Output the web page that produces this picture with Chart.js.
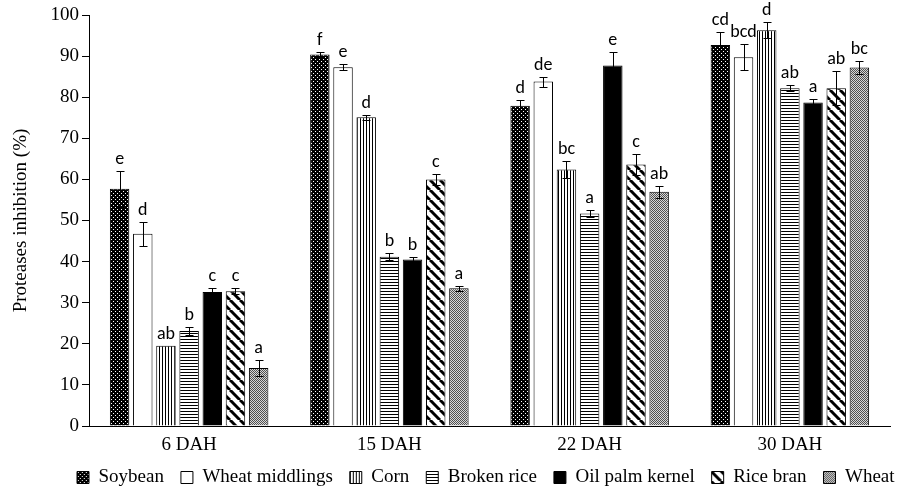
<!DOCTYPE html>
<html>
<head>
<meta charset="utf-8">
<script src="https://cdn.jsdelivr.net/npm/chart.js@4.4.1/dist/chart.umd.min.js"></script>
<style>
html,body{margin:0;padding:0;background:#fff;}
#wrap{width:897px;height:498px;}
</style>
</head>
<body>
<div id="wrap"><canvas id="c" width="897" height="498"></canvas></div>
<script>
const categories = ["6 DAH", "15 DAH", "22 DAH", "30 DAH"];
const seriesNames = ["Soybean", "Wheat middlings", "Corn", "Broken rice", "Oil palm kernel", "Rice bran", "Wheat"];

const soybean        = [57.7, 90.4, 77.9, 92.7];
const wheatMiddlings = [46.8, 87.3, 83.8, 89.7];
const corn           = [19.5, 75.1, 62.4, 96.3];
const brokenRice     = [23.1, 41.2, 51.7, 82.2];
const oilPalmKernel  = [32.6, 40.5, 87.7, 78.7];
const riceBran       = [32.8, 60.0, 63.6, 82.2];
const wheat          = [14.1, 33.5, 57.0, 87.2];

const soybeanErr        = [4.3, 0.6, 1.4, 3.1];
const wheatMiddlingsErr = [2.9, 0.8, 1.2, 3.2];
const cornErr           = [0.0, 0.6, 2.1, 1.9];
const brokenRiceErr     = [0.9, 0.8, 0.8, 0.8];
const oilPalmKernelErr  = [1.0, 0.6, 3.2, 0.8];
const riceBranErr       = [0.8, 1.3, 2.5, 4.2];
const wheatErr          = [1.9, 0.6, 1.5, 1.5];

const soybeanLetters        = ["e", "f", "d", "cd"];
const wheatMiddlingsLetters = ["d", "e", "de", "bcd"];
const cornLetters           = ["ab", "d", "bc", "d"];
const brokenRiceLetters     = ["b", "b", "a", "ab"];
const oilPalmKernelLetters  = ["c", "b", "e", "a"];
const riceBranLetters       = ["c", "c", "c", "ab"];
const wheatLetters          = ["a", "a", "ab", "bc"];

const yTicks = [0, 10, 20, 30, 40, 50, 60, 70, 80, 90, 100];

const values = [soybean, wheatMiddlings, corn, brokenRice, oilPalmKernel, riceBran, wheat];
const errors = [soybeanErr, wheatMiddlingsErr, cornErr, brokenRiceErr, oilPalmKernelErr, riceBranErr, wheatErr];
const letters = [soybeanLetters, wheatMiddlingsLetters, cornLetters, brokenRiceLetters, oilPalmKernelLetters, riceBranLetters, wheatLetters];

const SERIF = "'Liberation Serif', 'Times New Roman', Times, serif";
const LETTER_FONT = "18px Carlito, Lato, sans-serif";

function makePattern(w, h, draw) {
  const c = document.createElement('canvas');
  c.width = w; c.height = h;
  const g = c.getContext('2d');
  draw(g, w, h);
  return document.getElementById('c').getContext('2d').createPattern(c, 'repeat');
}

function build() {
  const patSoy = makePattern(4, 4, (g) => {
    g.fillStyle = '#000'; g.fillRect(0, 0, 4, 4);
    g.fillStyle = '#fff'; g.fillRect(1, 1, 1, 1); g.fillRect(3, 3, 1, 1);
  });
  const patCorn = makePattern(3, 3, (g) => {
    g.fillStyle = '#fff'; g.fillRect(0, 0, 3, 3);
    g.fillStyle = '#000'; g.fillRect(0, 0, 1, 3);
  });
  const patRice = makePattern(3, 3, (g) => {
    g.fillStyle = '#fff'; g.fillRect(0, 0, 3, 3);
    g.fillStyle = '#000'; g.fillRect(0, 0, 3, 1);
  });
  const patBran = makePattern(10, 10, (g) => {
    g.fillStyle = '#fff'; g.fillRect(0, 0, 10, 10);
    g.strokeStyle = '#000'; g.lineWidth = 3;
    for (const o of [-10, 0, 10]) {
      g.beginPath(); g.moveTo(o, 0); g.lineTo(o + 10, 10); g.stroke();
    }
  });
  const patWheat = makePattern(2, 2, (g) => {
    g.fillStyle = '#d8d8d8'; g.fillRect(0, 0, 2, 2);
    g.fillStyle = '#505050'; g.fillRect(0, 0, 1, 1); g.fillRect(1, 1, 1, 1);
  });
  const fills = [patSoy, '#ffffff', patCorn, patRice, '#000000', patBran, patWheat];

  const datasets = seriesNames.map((name, i) => ({
    label: name,
    data: values[i],
    backgroundColor: fills[i],
    borderColor: '#000',
    borderWidth: 1,
    borderSkipped: 'bottom',
    categoryPercentage: 0.81,
    barPercentage: 0.84
  }));

  const errPlugin = {
    id: 'errbars',
    afterDatasetsDraw(chart) {
      const ctx = chart.ctx;
      const y = chart.scales.y;
      ctx.save();
      ctx.strokeStyle = '#000';
      ctx.lineWidth = 1;
      ctx.fillStyle = '#000';
      ctx.font = LETTER_FONT;
      ctx.textAlign = 'center';
      ctx.textBaseline = 'alphabetic';
      chart.data.datasets.forEach((ds, i) => {
        const meta = chart.getDatasetMeta(i);
        meta.data.forEach((bar, j) => {
          const v = values[i][j], e = errors[i][j];
          const x = Math.round(bar.x) + 0.5;
          const yt = Math.round(y.getPixelForValue(v + e)) + 0.5;
          const yb = Math.round(y.getPixelForValue(v - e)) + 0.5;
          if (e > 0) {
            ctx.beginPath();
            ctx.moveTo(x, yt); ctx.lineTo(x, yb);
            ctx.moveTo(x - 4, yt); ctx.lineTo(x + 4, yt);
            ctx.moveTo(x - 4, yb); ctx.lineTo(x + 4, yb);
            ctx.stroke();
          }
          ctx.fillText(letters[i][j], bar.x, yt - 8);
        });
      });
      ctx.restore();
    }
  };

  // compact legend box and place it like the reference (off-centre)
  const legendShift = {
    id: 'legendShift',
    beforeLayout(chart) {
      const lg = chart.legend;
      if (!lg || lg._fitWrapped) return;
      const origFit = lg.fit.bind(lg);
      lg.fit = function () { origFit(); lg.height = 35; };
      lg._fitWrapped = true;
    },
    afterLayout(chart) {
      const lg = chart.legend;
      if (!lg || lg._shiftWrapped) return;
      const orig = lg.draw.bind(lg);
      lg.draw = function () {
        const hb = lg.legendHitBoxes && lg.legendHitBoxes[0];
        const dx = hb ? 77 - hb.left : 0;
        const dy = hb ? 468 - hb.top : 0;
        chart.ctx.save();
        chart.ctx.translate(dx, dy);
        orig();
        chart.ctx.restore();
      };
      lg._shiftWrapped = true;
    }
  };

  new Chart(document.getElementById('c'), {
    type: 'bar',
    data: { labels: categories, datasets },
    plugins: [errPlugin, legendShift],
    options: {
      responsive: false,
      devicePixelRatio: 1,
      animation: false,
      layout: { padding: { top: 15, right: 7, left: 0, bottom: 3 } },
      plugins: {
        tooltip: { enabled: false },
        legend: {
          position: 'bottom',
          labels: {
            boxWidth: 12, boxHeight: 12,
            padding: 17,
            color: '#000',
            font: { family: SERIF, size: 19 }
          }
        }
      },
      scales: {
        x: {
          grid: { display: false },
          border: { display: true, color: '#000', width: 1 },
          ticks: { color: '#000', padding: 0, font: { family: SERIF, size: 19 } },
          afterFit(scale) { scale.height = 34; }
        },
        y: {
          min: 0, max: 100,
          afterBuildTicks(scale) { scale.ticks = yTicks.map(v => ({ value: v })); },
          grid: { drawOnChartArea: false, drawTicks: true, tickLength: 7, color: '#000' },
          border: { display: true, color: '#000', width: 1 },
          ticks: { color: '#000', padding: 3, font: { family: SERIF, size: 19 } },
          title: { display: true, text: 'Proteases inhibition (%)', color: '#000', padding: { top: 10, bottom: 0 },
                   font: { family: SERIF, size: 19 } },
          afterFit(scale) { scale.width = 89; }
        }
      }
    }
  });
}

Promise.all([
  document.fonts.load("19px 'Liberation Serif'"),
  document.fonts.load("18px Lato")
]).catch(() => {}).then(build);
</script>
</body>
</html>
